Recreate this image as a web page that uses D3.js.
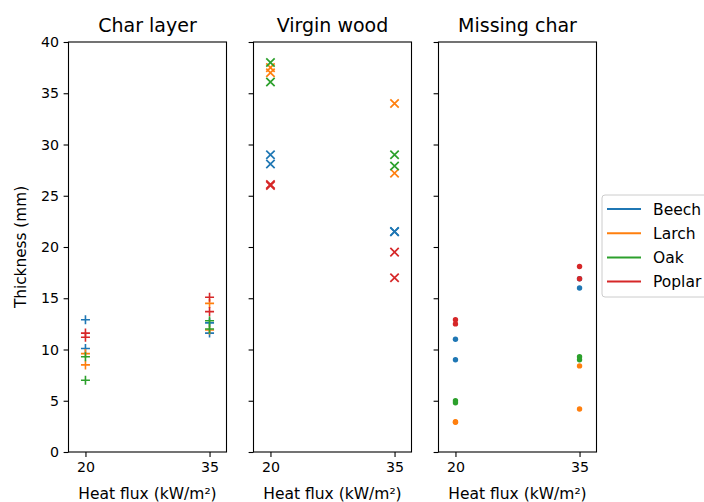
<!DOCTYPE html>
<html>
<head>
<meta charset="utf-8">
<script src="https://cdn.jsdelivr.net/npm/d3@7/dist/d3.min.js"></script>
<style>
body { margin: 0; background: #fff; }
svg { display: block; font-family: "DejaVu Sans", sans-serif; }
</style>
</head>
<body>
<svg id="chart" width="704" height="502"></svg>
<script>
// ---- data ----
const species = ["Beech", "Larch", "Oak", "Poplar"];
const colors = ["#1f77b4", "#ff7f0e", "#2ca02c", "#d62728"];
const heatFlux = [20, 35];
const panelTitles = ["Char layer", "Virgin wood", "Missing char"];
const markers = ["plus", "cross", "dot"];
const yTicks = [0, 5, 10, 15, 20, 25, 30, 35, 40];
const xTicks = [20, 35];

// replicate values per species (Beech, Larch, Oak, Poplar) at 20 and 35 kW/m²
const charLayer20 = [[12.9, 10.1], [9.6, 8.5], [9.3, 7.0], [11.6, 11.2]];
const charLayer35 = [[12.6, 11.6], [14.5, 11.9], [12.8, 12.0], [15.1, 13.7]];
const virginWood20 = [[29.0, 28.1], [37.5, 37.0], [38.0, 36.1], [26.1, 26.0]];
const virginWood35 = [[21.5, 21.5], [34.0, 27.2], [29.0, 27.9], [19.5, 17.0]];
const missingChar20 = [[11.0, 9.0], [2.95, 2.9], [5.0, 4.8], [12.9, 12.5]];
const missingChar35 = [[16.9, 16.0], [8.4, 4.2], [9.3, 9.0], [18.1, 16.9]];

const panelData = [
  [charLayer20, charLayer35],
  [virginWood20, virginWood35],
  [missingChar20, missingChar35]
];

// ---- layout ----
const svg = d3.select("#chart");
const plotTop = 42, plotBottom = 452, pw = 158;
const lefts = [68.5, 253.5, 438.5];

const y = d3.scaleLinear().domain([0, 40]).range([plotBottom, plotTop]);

panelData.forEach((pd, pi) => {
  const x = d3.scaleLinear().domain([17.95, 37.05]).range([lefts[pi], lefts[pi] + pw]);
  const g = svg.append("g");

  // points
  species.forEach((sp, si) => {
    const pts = [];
    heatFlux.forEach((hf, hi) => {
      pd[hi][si].forEach(v => pts.push({ x: hf, y: v }));
    });
    const col = colors[si];
    pts.forEach(p => {
      const cx = x(p.x), cy = y(p.y);
      if (markers[pi] === "plus") {
        const s = 4.5;
        g.append("path").attr("d", `M${cx - s},${cy}H${cx + s}M${cx},${cy - s}V${cy + s}`)
          .attr("stroke", col).attr("stroke-width", 1.6).attr("fill", "none");
      } else if (markers[pi] === "cross") {
        const s = 4.2;
        g.append("path").attr("d", `M${cx - s},${cy - s}L${cx + s},${cy + s}M${cx - s},${cy + s}L${cx + s},${cy - s}`)
          .attr("stroke", col).attr("stroke-width", 1.7).attr("fill", "none");
      } else {
        g.append("circle").attr("cx", cx).attr("cy", cy).attr("r", 2.7).attr("fill", col);
      }
    });
  });

  // frame
  g.append("rect").attr("x", lefts[pi]).attr("y", plotTop).attr("width", pw).attr("height", plotBottom - plotTop)
    .attr("fill", "none").attr("stroke", "#000").attr("stroke-width", 1.1);

  // x axis
  const xa = g.append("g").attr("transform", `translate(0,${plotBottom})`)
    .call(d3.axisBottom(x).tickValues(xTicks).tickSize(4.9).tickPadding(5).tickFormat(d3.format("d")));
  xa.select(".domain").remove();
  xa.selectAll("line").attr("stroke", "#000").attr("stroke-width", 1.1);
  xa.selectAll("text").attr("font-size", "14.2px").attr("fill", "#000").attr("font-family", "DejaVu Sans");

  // y axis
  const ya = g.append("g").attr("transform", `translate(${lefts[pi]},0)`)
    .call(d3.axisLeft(y).tickValues(yTicks).tickSize(4.9).tickPadding(4.5));
  ya.select(".domain").remove();
  ya.selectAll("line").attr("stroke", "#000").attr("stroke-width", 1.1);
  ya.selectAll("text").attr("font-size", "14.2px").attr("fill", "#000").attr("font-family", "DejaVu Sans");
  if (pi > 0) ya.selectAll("text").remove();

  // title
  g.append("text").attr("x", lefts[pi] + pw / 2).attr("y", plotTop - 10)
    .attr("text-anchor", "middle").attr("font-size", "19px").text(panelTitles[pi]);

  // x label
  g.append("text").attr("x", lefts[pi] + pw / 2).attr("y", 498.5)
    .attr("text-anchor", "middle").attr("font-size", "15.5px").text("Heat flux (kW/m²)");
});

// y label
svg.append("text").attr("transform", `translate(26,${(plotTop + plotBottom) / 2}) rotate(-90)`)
  .attr("text-anchor", "middle").attr("font-size", "15.3px").text("Thickness (mm)");

// legend
const lg = svg.append("g").attr("transform", "translate(602,195)");
lg.append("rect").attr("x", 0).attr("y", 0).attr("width", 108).attr("height", 102)
  .attr("rx", 3).attr("fill", "#fff").attr("fill-opacity", 0.8).attr("stroke", "#ccc").attr("stroke-width", 1);
species.forEach((sp, i) => {
  const yy = 14 + i * 24.2;
  lg.append("line").attr("x1", 5).attr("x2", 39).attr("y1", yy).attr("y2", yy)
    .attr("stroke", colors[i]).attr("stroke-width", 2);
  lg.append("text").attr("x", 51).attr("y", yy + 5.5).attr("font-size", "15.5px").text(sp);
});
</script>
</body>
</html>
